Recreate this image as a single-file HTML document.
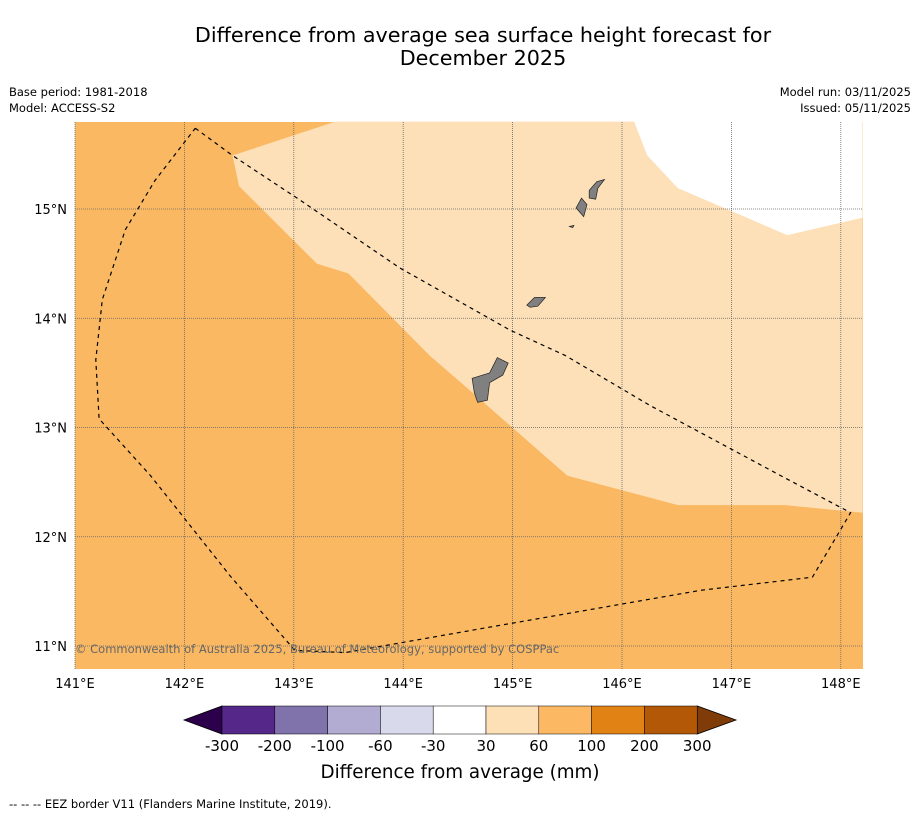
<!DOCTYPE html>
<html><head><meta charset="utf-8"><style>
body{margin:0;background:#fff;width:919px;height:816px;overflow:hidden;font-family:"DejaVu Sans",sans-serif}
</style></head><body>
<svg width="919" height="816" xmlns="http://www.w3.org/2000/svg" font-family="DejaVu Sans, sans-serif">
<text x="483" y="42" font-size="20.7" text-anchor="middle">Difference from average sea surface height forecast for</text>
<text x="483" y="65" font-size="20.7" text-anchor="middle">December 2025</text>
<text x="9" y="96" font-size="11.5">Base period: 1981-2018</text>
<text x="9" y="112" font-size="11.5">Model: ACCESS-S2</text>
<text x="911" y="96" font-size="11.5" text-anchor="end">Model run: 03/11/2025</text>
<text x="911" y="112" font-size="11.5" text-anchor="end">Issued: 05/11/2025</text>
<g id="map"></g>
<g id="cbar"></g>
<text x="460" y="778" font-size="18.3" text-anchor="middle">Difference from average (mm)</text>
<text x="9" y="808" font-size="11.5">--  --  -- EEZ border V11 (Flanders Marine Institute, 2019).</text>
</svg>
<script>
const lonTicks=[141,142,143,144,145,146,147,148];
const latTicks=[11,12,13,14,15];
const lightRegion=[[143.38,15.80],[142.44,15.49],[142.50,15.21],[143.21,14.50],[143.50,14.41],[144.24,13.66],[144.61,13.34],[145.50,12.56],[146.51,12.29],[147.49,12.29],[148.2,12.22],[148.2,14.92],[147.51,14.76],[146.51,15.19],[146.23,15.49],[146.11,15.80]];
const whiteRegion=[[146.11,15.80],[146.23,15.49],[146.51,15.19],[147.51,14.76],[148.2,14.92],[148.2,15.80]];
const eez=[[142.10,15.74],[142.44,15.49],[143.06,15.08],[143.97,14.46],[144.98,13.89],[145.48,13.66],[146.26,13.20],[147.45,12.56],[148.09,12.22],[147.74,11.63],[146.72,11.51],[144.89,11.19],[143.47,10.94],[143.01,10.96],[142.42,11.64],[141.69,12.56],[141.22,13.08],[141.19,13.62],[141.25,14.17],[141.46,14.81],[141.73,15.26],[142.10,15.74]];
const islands=[
[[144.63,13.45],[144.79,13.50],[144.86,13.64],[144.96,13.59],[144.91,13.48],[144.79,13.41],[144.77,13.25],[144.68,13.23],[144.65,13.32]],
[[145.13,14.12],[145.20,14.19],[145.30,14.19],[145.23,14.11],[145.16,14.10]],
[[145.58,15.01],[145.63,15.10],[145.68,15.04],[145.65,14.93]],
[[145.70,15.17],[145.77,15.25],[145.84,15.27],[145.78,15.19],[145.76,15.09],[145.70,15.10]],
[[145.52,14.84],[145.56,14.85],[145.55,14.83]]];
const cbLevels=["-300","-200","-100","-60","-30","30","60","100","200","300"];
const cbColors=["#542788","#8073ac","#b2abd2","#d8daeb","#ffffff","#fee0b6","#fdb863","#e08214","#b35806"];
const ns="http://www.w3.org/2000/svg";
const X=lon=>75+(lon-141)*109.4, Y=lat=>209-(lat-15)*109.25;
const pts=a=>a.map(p=>X(p[0]).toFixed(1)+","+Y(p[1]).toFixed(1)).join(" ");
function mk(t,at,parent){const e=document.createElementNS(ns,t);for(const k in at)e.setAttribute(k,at[k]);parent.appendChild(e);return e;}
const map=document.getElementById('map');
let r=mk('rect',{x:75,y:122,width:788,height:547,fill:'#fab863'},map);


let p=mk('polygon',{points:pts(lightRegion),fill:'#fde0b7'},map);


p=mk('polygon',{points:pts(whiteRegion),fill:'#ffffff'},map);


lonTicks.forEach(l=>{const x=X(l);
 let g=mk('line',{x1:x,y1:122,x2:x,y2:669,stroke:'#666',"stroke-width":0.8,"stroke-dasharray":"1,1"},map);
 
 
 let t=mk('text',{x:x,y:688,"font-size":13,"text-anchor":"middle"},map);t.textContent=l+"°E";
 
 });
latTicks.forEach(l=>{const y=Y(l);
 let g=mk('line',{x1:75,y1:y,x2:863,y2:y,stroke:'#666',"stroke-width":0.8,"stroke-dasharray":"1,1"},map);
 
 
 let t=mk('text',{x:67,y:y+5,"font-size":13,"text-anchor":"end"},map);t.textContent=l+"°N";
 
 });
islands.forEach(is=>{let e=mk('polygon',{points:pts(is),fill:'#808080',stroke:'#222',"stroke-width":0.7},map);
 
 });
let e=mk('polyline',{points:pts(eez),fill:'none',stroke:'#000',"stroke-width":1.2,"stroke-dasharray":"4,4"},map);


let c=mk('text',{x:75,y:653,"font-size":11.5,fill:'#666'},map);c.textContent="© Commonwealth of Australia 2025, Bureau of Meteorology, supported by COSPPac";


const cb=document.getElementById('cbar');
const cx0=222,cw=52.8,cy=706,ch=28;
let tl=mk('polygon',{points:`${cx0},${cy} ${cx0},${cy+ch} 184,${cy+ch/2}`,fill:'#2d004b',stroke:'#000',"stroke-width":0.8},cb);


const xe=cx0+cw*cbColors.length;
let tr=mk('polygon',{points:`${xe},${cy} ${xe},${cy+ch} 736,${cy+ch/2}`,fill:'#7f3b08',stroke:'#000',"stroke-width":0.8},cb);


cbColors.forEach((col,i)=>{let b=mk('rect',{x:cx0+i*cw,y:cy,width:cw,height:ch,fill:col,stroke:'#000',"stroke-width":0.5},cb);
 
 });
cbLevels.forEach((lv,i)=>{let t=mk('text',{x:cx0+i*cw,y:751,"font-size":15,"text-anchor":"middle"},cb);t.textContent=lv;
 
 });
</script>
</body></html>
